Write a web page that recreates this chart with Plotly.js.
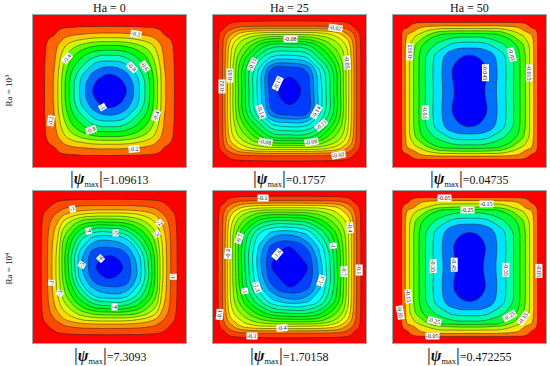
<!DOCTYPE html>
<html><head><meta charset="utf-8">
<script src="https://cdn.plot.ly/plotly-3.0.1.min.js"></script>
<style>html,body{margin:0;padding:0;background:#fff}#c{width:550px;height:366px}</style></head>
<body><div id="c"></div>
<script>
// grid nodes of each panel (fractions of the cavity; y runs from top to bottom)
const xRa3Ha0=[0,.083,.143,.17,.208,.254,.331,.41,.5,.59,.669,.746,.792,.83,.857,.917,1];
const yRa3Ha0=[0,.083,.127,.158,.198,.25,.33,.41,.5,.59,.67,.75,.802,.842,.873,.917,1];
const xRa3Ha25=[0,.059,.087,.117,.164,.224,.316,.385,.5,.615,.684,.776,.836,.883,.913,.941,1];
const yRa3Ha25=[0,.07,.097,.118,.155,.2,.292,.36,.5,.64,.708,.8,.845,.882,.903,.93,1];
const xRa3Ha50=[0,.054,.077,.103,.142,.196,.291,.395,.5,.605,.709,.804,.858,.897,.923,.946,1];
const yRa3Ha50=[0,.048,.07,.086,.108,.135,.198,.263,.335,.5,.665,.737,.802,.865,.892,.914,.93,.952,1];
const xRa4Ha0=[0,.078,.122,.16,.2,.247,.31,.397,.5,.603,.69,.76,.805,.84,.875,.915,1];
const yRa4Ha0=[0,.08,.123,.153,.196,.24,.312,.411,.5,.589,.688,.76,.804,.847,.877,.92,1];
const xRa4Ha25=[0,.057,.086,.113,.159,.214,.303,.39,.5,.61,.697,.786,.841,.887,.914,.943,1];
const yRa4Ha25=[0,.059,.086,.111,.15,.199,.275,.375,.5,.625,.725,.801,.85,.889,.914,.941,1];
const xRa4Ha50=[0,.054,.077,.103,.142,.196,.291,.395,.5,.605,.709,.804,.858,.897,.923,.946,1];
const yRa4Ha50=[0,.042,.061,.081,.11,.133,.197,.265,.335,.5,.665,.735,.803,.867,.89,.919,.939,.958,1];

// stream function, as a fraction of |psi_max|
const zero=[0,0,0,0,0,0,0,0,0,0,0,0,0,0,0,0,0];
const zRa3Ha0=[zero,
[0,.04,.06,.078,.088,.093,.098,.099,.1,.099,.098,.093,.088,.078,.06,.04,0],
[0,.06,.09,.115,.145,.165,.185,.198,.2,.198,.185,.165,.145,.115,.09,.06,0],
[0,.078,.115,.15,.195,.23,.27,.295,.3,.295,.27,.23,.195,.15,.115,.078,0],
[0,.088,.145,.195,.26,.32,.39,.44,.45,.44,.39,.32,.26,.195,.145,.088,0],
[0,.093,.165,.23,.32,.41,.515,.581,.6,.581,.515,.41,.32,.23,.165,.093,0],
[0,.098,.185,.27,.39,.515,.64,.767,.8,.767,.64,.515,.39,.27,.185,.098,0],
[0,.099,.198,.295,.44,.581,.767,.89,.95,.89,.767,.581,.44,.295,.198,.099,0],
[0,.1,.2,.3,.45,.6,.8,.95,1,.95,.8,.6,.45,.3,.2,.1,0],
[0,.099,.198,.295,.44,.581,.767,.89,.95,.89,.767,.581,.44,.295,.198,.099,0],
[0,.098,.185,.27,.39,.515,.64,.767,.8,.767,.64,.515,.39,.27,.185,.098,0],
[0,.093,.165,.23,.32,.41,.515,.581,.6,.581,.515,.41,.32,.23,.165,.093,0],
[0,.088,.145,.195,.26,.32,.39,.44,.45,.44,.39,.32,.26,.195,.145,.088,0],
[0,.078,.115,.15,.195,.23,.27,.295,.3,.295,.27,.23,.195,.15,.115,.078,0],
[0,.06,.09,.115,.145,.165,.185,.198,.2,.198,.185,.165,.145,.115,.09,.06,0],
[0,.04,.06,.078,.088,.093,.098,.099,.1,.099,.098,.093,.088,.078,.06,.04,0],zero];
const zRa3Ha25=[zero,
[0,.03,.055,.075,.088,.094,.098,.1,.1,.1,.098,.094,.088,.075,.055,.03,0],
[0,.055,.07,.115,.155,.18,.195,.199,.2,.199,.195,.18,.155,.115,.07,.055,0],
[0,.075,.115,.15,.215,.26,.29,.298,.3,.298,.29,.26,.215,.15,.115,.075,0],
[0,.088,.155,.215,.285,.35,.42,.45,.45,.44,.4,.335,.275,.215,.155,.088,0],
[0,.094,.18,.26,.35,.42,.54,.595,.6,.581,.51,.4,.335,.26,.18,.094,0],
[0,.098,.195,.29,.42,.54,.69,.775,.8,.76,.65,.51,.4,.29,.195,.098,0],
[0,.1,.199,.298,.45,.595,.775,.93,.95,.905,.76,.581,.44,.298,.199,.1,0],
[0,.1,.2,.3,.45,.6,.8,.95,1,.95,.8,.6,.45,.3,.2,.1,0],
[0,.1,.199,.298,.44,.581,.76,.905,.95,.93,.775,.595,.45,.298,.199,.1,0],
[0,.098,.195,.29,.4,.51,.65,.76,.8,.775,.69,.54,.42,.29,.195,.098,0],
[0,.094,.18,.26,.335,.4,.51,.581,.6,.595,.54,.42,.35,.26,.18,.094,0],
[0,.088,.155,.215,.275,.335,.4,.44,.45,.45,.42,.35,.285,.215,.155,.088,0],
[0,.075,.115,.15,.215,.26,.29,.298,.3,.298,.29,.26,.215,.15,.115,.075,0],
[0,.055,.07,.115,.155,.18,.195,.199,.2,.199,.195,.18,.155,.115,.07,.055,0],
[0,.03,.055,.075,.088,.094,.098,.1,.1,.1,.098,.094,.088,.075,.055,.03,0],zero];
const zRa3Ha50=[zero,
[0,.025,.05,.075,.09,.096,.099,.1,.1,.1,.099,.096,.09,.075,.05,.025,0],
[0,.05,.065,.095,.14,.175,.195,.199,.2,.199,.195,.175,.14,.095,.065,.05,0],
[0,.075,.095,.115,.175,.24,.285,.298,.3,.298,.285,.24,.175,.115,.095,.075,0],
[0,.09,.14,.175,.22,.3,.41,.445,.45,.445,.41,.3,.22,.175,.14,.09,0],
[0,.096,.175,.24,.3,.38,.53,.588,.6,.588,.53,.38,.3,.24,.175,.096,0],
[0,.099,.195,.285,.41,.53,.66,.774,.8,.774,.66,.53,.41,.285,.195,.099,0],
[0,.1,.199,.298,.445,.588,.774,.92,.95,.92,.774,.588,.445,.298,.199,.1,0],
[0,.1,.2,.3,.45,.6,.8,.95,.975,.95,.8,.6,.45,.3,.2,.1,0],
[0,.1,.2,.3,.45,.6,.797,.948,1,.948,.797,.6,.45,.3,.2,.1,0],
[0,.1,.2,.3,.45,.6,.8,.95,.975,.95,.8,.6,.45,.3,.2,.1,0],
[0,.1,.199,.298,.445,.588,.774,.92,.95,.92,.774,.588,.445,.298,.199,.1,0],
[0,.099,.195,.285,.41,.53,.66,.774,.8,.774,.66,.53,.41,.285,.195,.099,0],
[0,.096,.175,.24,.3,.38,.53,.588,.6,.588,.53,.38,.3,.24,.175,.096,0],
[0,.09,.14,.175,.22,.3,.41,.445,.45,.445,.41,.3,.22,.175,.14,.09,0],
[0,.075,.095,.115,.175,.24,.285,.298,.3,.298,.285,.24,.175,.115,.095,.075,0],
[0,.05,.065,.095,.14,.175,.195,.199,.2,.199,.195,.175,.14,.095,.065,.05,0],
[0,.025,.05,.075,.09,.096,.099,.1,.1,.1,.099,.096,.09,.075,.05,.025,0],zero];
const zRa4Ha0=[zero,
[0,.04,.06,.078,.088,.093,.098,.099,.1,.099,.098,.093,.088,.078,.06,.04,0],
[0,.06,.09,.115,.145,.165,.185,.198,.2,.198,.185,.165,.145,.115,.09,.06,0],
[0,.078,.115,.15,.195,.23,.27,.295,.3,.295,.27,.23,.195,.15,.115,.078,0],
[0,.088,.145,.195,.271,.336,.408,.449,.45,.431,.372,.304,.249,.195,.145,.088,0],
[0,.093,.165,.23,.336,.41,.52,.595,.6,.567,.47,.37,.304,.23,.165,.093,0],
[0,.098,.185,.27,.408,.52,.66,.782,.8,.752,.6,.47,.372,.27,.185,.098,0],
[0,.099,.198,.295,.449,.595,.782,.93,.95,.9,.752,.567,.431,.295,.198,.099,0],
[0,.1,.2,.3,.45,.6,.8,.95,1,.95,.8,.6,.45,.3,.2,.1,0],
[0,.099,.198,.295,.431,.567,.752,.9,.95,.93,.782,.595,.449,.295,.198,.099,0],
[0,.098,.185,.27,.372,.47,.6,.752,.8,.782,.66,.52,.408,.27,.185,.098,0],
[0,.093,.165,.23,.304,.37,.47,.567,.6,.595,.52,.41,.336,.23,.165,.093,0],
[0,.088,.145,.195,.249,.304,.372,.431,.45,.449,.408,.336,.271,.195,.145,.088,0],
[0,.078,.115,.15,.195,.23,.27,.295,.3,.295,.27,.23,.195,.15,.115,.078,0],
[0,.06,.09,.115,.145,.165,.185,.198,.2,.198,.185,.165,.145,.115,.09,.06,0],
[0,.04,.06,.078,.088,.093,.098,.099,.1,.099,.098,.093,.088,.078,.06,.04,0],zero];
const zRa4Ha25=[zero,
[0,.03,.055,.075,.088,.094,.098,.1,.1,.1,.098,.094,.088,.075,.055,.03,0],
[0,.055,.07,.115,.155,.18,.195,.199,.2,.199,.195,.18,.155,.115,.07,.055,0],
[0,.075,.115,.15,.215,.26,.29,.298,.3,.298,.29,.26,.215,.15,.115,.075,0],
[0,.088,.155,.215,.291,.36,.43,.452,.45,.436,.395,.33,.269,.215,.155,.088,0],
[0,.094,.18,.26,.36,.44,.55,.6,.6,.574,.5,.4,.33,.26,.18,.094,0],
[0,.098,.195,.29,.43,.55,.7,.78,.8,.75,.635,.5,.395,.29,.195,.098,0],
[0,.1,.199,.298,.452,.6,.78,.915,.95,.88,.75,.574,.436,.298,.199,.1,0],
[0,.1,.2,.3,.45,.6,.8,.95,1,.95,.8,.6,.45,.3,.2,.1,0],
[0,.1,.199,.298,.436,.574,.75,.88,.95,.915,.78,.6,.452,.298,.199,.1,0],
[0,.098,.195,.29,.395,.5,.635,.75,.8,.78,.7,.55,.43,.29,.195,.098,0],
[0,.094,.18,.26,.33,.4,.5,.574,.6,.6,.55,.44,.36,.26,.18,.094,0],
[0,.088,.155,.215,.269,.33,.395,.436,.45,.452,.43,.36,.291,.215,.155,.088,0],
[0,.075,.115,.15,.215,.26,.29,.298,.3,.298,.29,.26,.215,.15,.115,.075,0],
[0,.055,.07,.115,.155,.18,.195,.199,.2,.199,.195,.18,.155,.115,.07,.055,0],
[0,.03,.055,.075,.088,.094,.098,.1,.1,.1,.098,.094,.088,.075,.055,.03,0],zero];
const zRa4Ha50=[zero,
[0,.025,.05,.075,.09,.096,.099,.1,.1,.1,.099,.096,.09,.075,.05,.025,0],
[0,.05,.065,.095,.14,.175,.195,.199,.2,.199,.195,.175,.14,.095,.065,.05,0],
[0,.075,.095,.115,.175,.24,.285,.298,.3,.298,.285,.24,.175,.115,.095,.075,0],
[0,.09,.14,.175,.22,.3,.41,.445,.45,.445,.41,.3,.22,.175,.14,.09,0],
[0,.096,.175,.24,.3,.38,.53,.588,.6,.588,.53,.38,.3,.24,.175,.096,0],
[0,.099,.195,.285,.41,.53,.66,.774,.8,.774,.66,.53,.41,.285,.195,.099,0],
[0,.1,.199,.298,.445,.588,.774,.92,.95,.92,.774,.588,.445,.298,.199,.1,0],
[0,.1,.2,.3,.45,.6,.8,.95,.975,.95,.8,.6,.45,.3,.2,.1,0],
[0,.1,.2,.3,.45,.6,.795,.945,1,.945,.795,.6,.45,.3,.2,.1,0],
[0,.1,.2,.3,.45,.6,.8,.95,.975,.95,.8,.6,.45,.3,.2,.1,0],
[0,.1,.199,.298,.445,.588,.774,.92,.95,.92,.774,.588,.445,.298,.199,.1,0],
[0,.099,.195,.285,.41,.53,.66,.774,.8,.774,.66,.53,.41,.285,.195,.099,0],
[0,.096,.175,.24,.3,.38,.53,.588,.6,.588,.53,.38,.3,.24,.175,.096,0],
[0,.09,.14,.175,.22,.3,.41,.445,.45,.445,.41,.3,.22,.175,.14,.09,0],
[0,.075,.095,.115,.175,.24,.285,.298,.3,.298,.285,.24,.175,.115,.095,.075,0],
[0,.05,.065,.095,.14,.175,.195,.199,.2,.199,.195,.175,.14,.095,.065,.05,0],
[0,.025,.05,.075,.09,.096,.099,.1,.1,.1,.099,.096,.09,.075,.05,.025,0],zero];

const columnTitles=['Ha = 0','Ha = 25','Ha = 50'];
const rowTitles=['Ra = 10<sup>3</sup>','Ra = 10<sup>4</sup>'];
const psiMaxText=['1.09613','0.1757','0.04735','7.3093','1.70158','0.472255'];
const psiMax=[1.09613,0.1757,0.04735,7.3093,1.70158,0.472255];
const contourStep=[0.1,0.01,0.005,0.5,0.1,0.05];
const contourCount=[10,17,9,14,16,9];

// contour labels: x, y, text, angle
const labelsRa3Ha0=[[.674,.123,'-0.2',10],[.735,.339,'-0.6',55],[.645,.344,'-0.8',45],[.225,.284,'-0.4',-50],[.453,.606,'-1',60],[.803,.663,'-0.4',-70],[.12,.694,'-0.2',-80],[.376,.755,'-0.8',-20],[.663,.88,'-0.2',-5]];
const labelsRa3Ha25=[[.803,.087,'-0.02',8],[.504,.157,'-0.08',0],[.88,.313,'-0.05',85],[.062,.47,'-0.02',-90],[.111,.395,'-0.05',-90],[.258,.322,'-0.11',-65],[.424,.448,'-0.17',-65],[.317,.635,'-0.14',70],[.675,.639,'-0.14',-60],[.707,.722,'-0.11',-40],[.341,.834,'-0.08',10],[.646,.836,'-0.08',-10],[.821,.919,'-0.02',-10]];
const labelsRa3Ha50=[[.107,.241,'-0.015',-90],[.777,.263,'-0.03',75],[.893,.379,'-0.015',90],[.607,.379,'-0.045',90],[.21,.639,'-0.03',90]];
const labelsRa4Ha0=[[.258,.12,'-1',-15],[.827,.212,'-2',45],[.81,.284,'-3',45],[.915,.561,'-1',90],[.361,.262,'-4',-15],[.54,.277,'-5',0],[.438,.445,'-6',-45],[.317,.485,'-5',-60],[.12,.605,'-2',-85],[.175,.67,'-3',-60],[.532,.764,'-4',0]];
const labelsRa4Ha25=[[.325,.048,'-0.1',0],[.893,.24,'-0.4',85],[.788,.36,'-1',85],[.854,.528,'-0.7',90],[.958,.517,'-0.1',90],[.172,.31,'-0.7',-70],[.096,.413,'-0.4',-85],[.046,.812,'-0.1',-85],[.21,.655,'-1',80],[.286,.633,'-1.3',75],[.705,.59,'-1.3',-70],[.421,.413,'-1.6',-50],[.45,.904,'-0.4',-5],[.253,.954,'-0.1',0]];
const labelsRa4Ha50=[[.334,.048,'-0.05',0],[.614,.085,'-0.15',0],[.487,.124,'-0.25',0],[.26,.496,'-0.35',90],[.402,.485,'-0.45',90],[.74,.517,'-0.35',90],[.956,.524,'-0.05',90],[.1,.692,'-0.15',85],[.046,.797,'-0.05',80],[.269,.852,'-0.25',15],[.762,.823,'-0.25',-30],[.854,.838,'-0.15',-55],[.26,.954,'-0.05',0]];

const W=550,H=366,SERIF='"Liberation Serif","Times New Roman",serif';
const panelLeft=[33,213,393], panelTop=[15,191], panelSize=153;
const xs=[xRa3Ha0,xRa3Ha25,xRa3Ha50,xRa4Ha0,xRa4Ha25,xRa4Ha50];
const ys=[yRa3Ha0,yRa3Ha25,yRa3Ha50,yRa4Ha0,yRa4Ha25,yRa4Ha50];
const zs=[zRa3Ha0,zRa3Ha25,zRa3Ha50,zRa4Ha0,zRa4Ha25,zRa4Ha50];
const labels=[labelsRa3Ha0,labelsRa3Ha25,labelsRa3Ha50,labelsRa4Ha0,labelsRa4Ha25,labelsRa4Ha50];
const psiCentre=[[109.5,178],[289.5,178],[469.5,178],[110,355],[289.5,355],[469,355]];

function hsvHue(h){ // h in degrees, 0..240, full saturation and value
  const c=h/60,i=Math.floor(c),f=c-i;
  const v=[[255,255*f,0],[255*(1-f),255,0],[0,255,255*f],[0,255*(1-f),255],[0,0,255]][Math.min(i,4)];
  return 'rgb('+v.map(Math.round).join(',')+')';
}
const traces=[],annotations=[],layout={width:W,height:H,margin:{l:0,r:0,t:0,b:0},paper_bgcolor:'#fff',plot_bgcolor:'#fff',showlegend:false,font:{family:SERIF}};
const centred={xanchor:'center',yanchor:'middle',showarrow:false};
for(let p=0;p<6;p++){
  const col=p%3,row=Math.floor(p/3),s=p?String(p+1):'';
  const n=contourCount[p],lvl=contourStep[p]/psiMax[p];
  const scale=[];for(let k=0;k<=n;k++)scale.push([k/n,hsvHue(240*k/n)]);
  traces.push({type:'contour',x:xs[p],y:ys[p],z:zs[p],xaxis:'x'+s,yaxis:'y'+s,showscale:false,hoverinfo:'skip',
    autocontour:false,contours:{coloring:'fill',start:lvl,end:lvl*n,size:lvl,showlines:true},
    colorscale:scale,line:{color:'#222',width:.5,smoothing:1.3}});
  const ax={showgrid:false,zeroline:false,showticklabels:false,ticks:'',showline:true,mirror:true,linecolor:'#9aa',linewidth:1};
  layout['xaxis'+s]=Object.assign({},ax,{range:[0,1],domain:[panelLeft[col]/W,(panelLeft[col]+panelSize)/W],anchor:'y'+s});
  layout['yaxis'+s]=Object.assign({},ax,{range:[1,0],domain:[1-(panelTop[row]+152)/H,1-panelTop[row]/H],anchor:'x'+s});
  labels[p].forEach(l=>annotations.push(Object.assign({},centred,{xref:'x'+s,yref:'y'+s,x:l[0],y:l[1],text:l[2],textangle:l[3],bgcolor:'#fff',borderpad:0,font:{size:6,family:SERIF,color:'#111'}})));
  annotations.push(Object.assign({},centred,{xref:'paper',yref:'paper',x:psiCentre[p][0]/W,y:1-psiCentre[p][1]/H,
    text:'<span style="font-size:19px">|</span><i><b><span style="font-size:16px">ψ</span></b></i><sub>max</sub><span style="font-size:19px">|</span>='+psiMaxText[p],font:{size:12,family:SERIF,color:'#111'}}));
}
columnTitles.forEach((t,i)=>annotations.push(Object.assign({},centred,{xref:'paper',yref:'paper',x:(panelLeft[i]+76.5)/W,y:1-8/H,text:t,font:{size:12,family:SERIF,color:'#111'}})));
rowTitles.forEach((t,i)=>annotations.push(Object.assign({},centred,{xref:'paper',yref:'paper',x:8.5/W,y:1-[91,268][i]/H,text:t,textangle:-90,font:{size:9,family:SERIF,color:'#111'}})));
layout.annotations=annotations;
Plotly.newPlot('c',traces,layout,{displayModeBar:false,staticPlot:true});
</script></body></html>
